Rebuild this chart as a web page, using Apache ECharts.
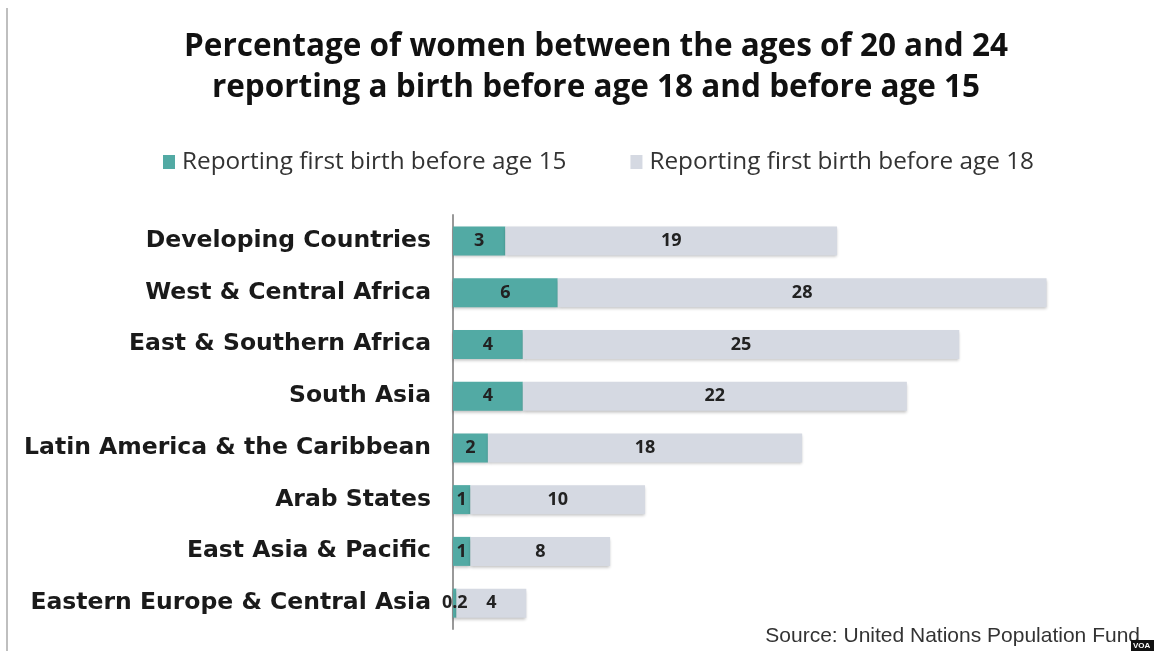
<!DOCTYPE html>
<html><head><meta charset="utf-8">
<script src="https://cdn.jsdelivr.net/npm/echarts@6/dist/echarts.min.js"></script>
<style>html,body{margin:0;padding:0;background:#fff}#c{width:1154px;height:651px}</style>
</head><body><div id="c"></div>
<script>
const categories = ['Developing Countries','West & Central Africa','East & Southern Africa','South Asia','Latin America & the Caribbean','Arab States','East Asia & Pacific','Eastern Europe & Central Asia'];
const before15 = [3, 6, 4, 4, 2, 1, 1, 0.2];
const before18 = [19, 28, 25, 22, 18, 10, 8, 4];
const seriesNames = ['Reporting first birth before age 15','Reporting first birth before age 18'];
const titleLines = ['Percentage of women between the ages of 20 and 24','reporting a birth before age 18 and before age 15'];
const sourceText = 'Source: United Nations Population Fund';

const chart = echarts.init(document.getElementById('c'));
const labelStyle = {show:true, position:'inside', color:'#222', fontFamily:'Open Sans', fontWeight:'bold', fontSize:18};
const shadow = {shadowColor:'rgba(0,0,0,0.25)', shadowBlur:3, shadowOffsetY:2};
chart.setOption({
  animation:false,
  backgroundColor:'#fff',
  legend:{top:145, left:158, itemGap:64, itemWidth:12, itemHeight:14, icon:'rect',
    textStyle:{fontFamily:'Open Sans', fontSize:24.3, color:'#333', padding:[0,0,0,2]}, data:seriesNames},
  grid:{left:453, top:215, height:414, right:90},
  xAxis:{type:'value', min:0, max:35, show:false},
  yAxis:{type:'category', data:categories, inverse:true,
    axisLine:{show:true, lineStyle:{color:'#999', width:2}}, axisTick:{show:false},
    axisLabel:{fontFamily:'DejaVu Sans', fontWeight:'bold', fontSize:23.5, color:'#1a1a1a', margin:22},
    splitLine:{show:false}},
  series:[
    {name:seriesNames[0], type:'bar', stack:'a', data:before15, barWidth:29,
      itemStyle:Object.assign({color:'#52AAA4'}, shadow), label:labelStyle},
    {name:seriesNames[1], type:'bar', stack:'a', data:before18, barWidth:29,
      itemStyle:Object.assign({color:'#D5D9E2'}, shadow), label:labelStyle}
  ],
  graphic:[
    {type:'text', x:596, y:47, style:{text:titleLines[0], font:'bold 31.5px "Open Sans"', fill:'#111', textAlign:'center', textVerticalAlign:'middle'}},
    {type:'text', x:596, y:88, style:{text:titleLines[1], font:'bold 31.5px "Open Sans"', fill:'#111', textAlign:'center', textVerticalAlign:'middle'}},
    {type:'line', shape:{x1:7, y1:8, x2:7, y2:651}, style:{stroke:'#aaa', lineWidth:1.5}},
    {type:'text', right:14, top:626, style:{text:sourceText, font:'21px "Liberation Sans"', fill:'#333'}},
    {type:'rect', shape:{x:1131, y:640, width:23, height:11}, style:{fill:'#111'}},
    {type:'text', x:1133, y:642, style:{text:'VOA', font:'bold 8px "Liberation Sans"', fill:'#fff'}}
  ]
});
</script></body></html>
